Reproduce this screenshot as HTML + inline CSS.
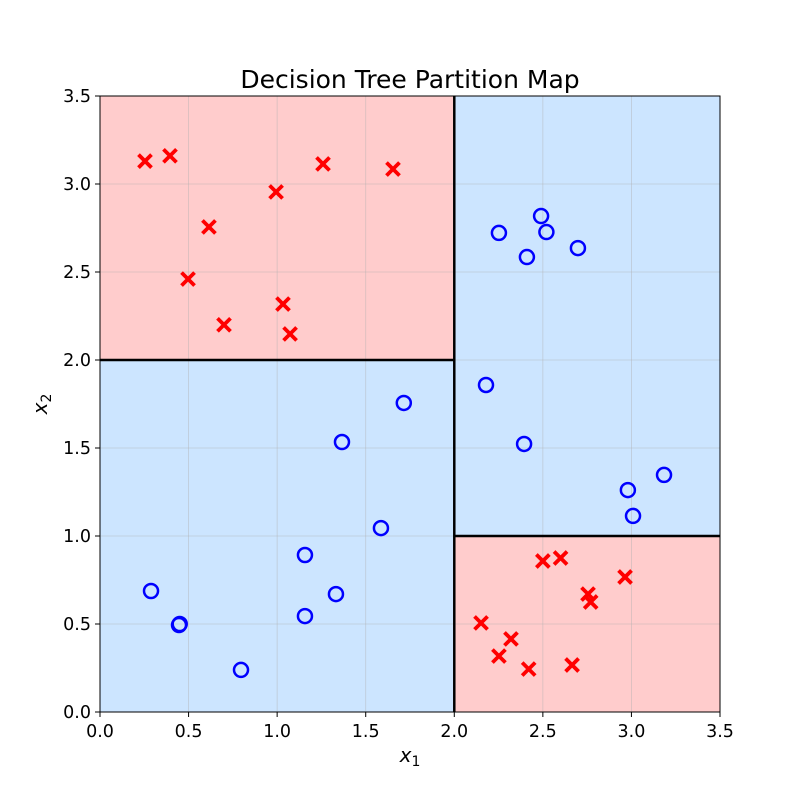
<!DOCTYPE html>
<html><head><meta charset="utf-8"><style>body{margin:0;background:#fff}svg{display:block;font-family:"DejaVu Sans","Liberation Sans",sans-serif}</style></head>
<body>
<svg id="chart" width="800" height="800"></svg>
<script>
const xTicks=[0,0.5,1,1.5,2,2.5,3,3.5];
const yTicks=[0,0.5,1,1.5,2,2.5,3,3.5];
const tickLabels=["0.0","0.5","1.0","1.5","2.0","2.5","3.0","3.5"];
const redX=[0.254,0.395,0.615,0.497,0.70,0.994,1.033,1.073,1.259,1.654,2.151,2.252,2.32,2.42,2.50,2.60,2.665,2.755,2.77,2.964];
const redY=[3.13,3.16,2.756,2.46,2.20,2.955,2.318,2.148,3.114,3.085,0.506,0.318,0.415,0.244,0.858,0.875,0.267,0.67,0.625,0.767];
const blueX=[0.288,0.446,0.45,0.796,1.157,1.157,1.332,1.366,1.586,1.715,2.179,2.394,2.252,2.41,2.49,2.52,2.698,2.98,3.009,3.184];
const blueY=[0.6875,0.494,0.5,0.239,0.892,0.545,0.67,1.534,1.045,1.756,1.858,1.523,2.722,2.585,2.818,2.727,2.636,1.261,1.114,1.347];
const regions=[{x0:0,x1:2,y0:2,y1:3.5,c:"#ffcccc"},{x0:0,x1:2,y0:0,y1:2,c:"#cce5ff"},{x0:2,x1:3.5,y0:1,y1:3.5,c:"#cce5ff"},{x0:2,x1:3.5,y0:0,y1:1,c:"#ffcccc"}];
const splits=[{x0:2,x1:2,y0:0,y1:3.5},{x0:0,x1:2,y0:2,y1:2},{x0:2,x1:3.5,y0:1,y1:1}];
const L=100,R=720,T=96,B=712;
const sx=v=>L+(v/3.5)*(R-L), sy=v=>B-(v/3.5)*(B-T);
const svg=document.getElementById('chart');const NS="http://www.w3.org/2000/svg";
function mk(t,a,p){const e=document.createElementNS(NS,t);for(const k in a)e.setAttribute(k,a[k]);(p||svg).appendChild(e);return e;}
regions.forEach((r,i)=>{const e=mk('rect',{x:sx(r.x0),y:sy(r.y1),width:sx(r.x1)-sx(r.x0),height:sy(r.y0)-sy(r.y1),fill:r.c});

});
xTicks.forEach((v,i)=>{const g=mk('line',{x1:sx(v),x2:sx(v),y1:T,y2:B,stroke:"#b0b0b0","stroke-opacity":0.5,"stroke-width":0.8});


mk('line',{x1:sx(v),x2:sx(v),y1:B,y2:B+5,stroke:"#000"});
const t=mk('text',{x:sx(v),y:B+25,"text-anchor":"middle","font-size":17.5});t.textContent=tickLabels[i];

});
yTicks.forEach((v,i)=>{const g=mk('line',{x1:L,x2:R,y1:sy(v),y2:sy(v),stroke:"#b0b0b0","stroke-opacity":0.5,"stroke-width":0.8});


mk('line',{x1:L-5,x2:L,y1:sy(v),y2:sy(v),stroke:"#000"});
const t=mk('text',{x:L-9,y:sy(v)+6,"text-anchor":"end","font-size":17.5});t.textContent=tickLabels[i];

});
splits.forEach(s=>{const e=mk('line',{x1:sx(s.x0),x2:sx(s.x1),y1:sy(s.y0),y2:sy(s.y1),stroke:"#000","stroke-width":2.5});

});
blueX.forEach((v,i)=>{const c=mk('circle',{cx:sx(v),cy:sy(blueY[i]),r:7,fill:"none",stroke:"#0000ff","stroke-width":2.5});

});
redX.forEach((v,i)=>{const x=sx(v),y=sy(redY[i]),d=6.5;const p=mk('path',{d:`M${x-d},${y-d}L${x+d},${y+d}M${x-d},${y+d}L${x+d},${y-d}`,stroke:"#ff0000","stroke-width":3.8});

});
const fr=mk('rect',{x:L,y:T,width:R-L,height:B-T,fill:"none",stroke:"#000","stroke-width":1});


const ti=mk('text',{x:410,y:88,"text-anchor":"middle","font-size":25});ti.textContent="Decision Tree Partition Map";


const xl=mk('text',{x:410,y:762,"text-anchor":"middle","font-size":20,"font-style":"italic"});xl.innerHTML='x<tspan font-size="14" font-style="normal" dy="4">1</tspan>';


const yl=mk('text',{x:0,y:0,"text-anchor":"middle","font-size":20,"font-style":"italic",transform:"translate(47,404) rotate(-90)"});yl.innerHTML='x<tspan font-size="14" font-style="normal" dy="4">2</tspan>';


</script>
</body></html>
